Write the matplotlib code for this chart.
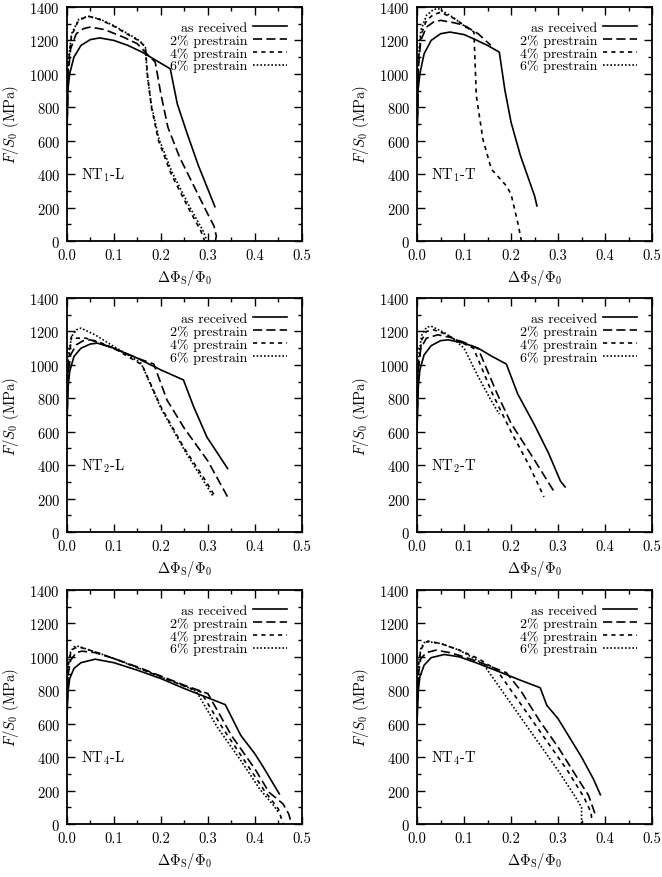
import matplotlib
matplotlib.use("Agg")
import matplotlib.pyplot as plt
from matplotlib.ticker import MultipleLocator

plt.rcParams['font.family'] = ['cmr10', 'DejaVu Serif']
plt.rcParams['mathtext.fontset'] = 'cm'
plt.rcParams['axes.formatter.use_mathtext'] = True
plt.rcParams['font.size'] = 10.5

labels = ["as received", "2% prestrain", "4% prestrain", "6% prestrain"]
panel_names = [r"NT$_1$-L", r"NT$_1$-T", r"NT$_2$-L", r"NT$_2$-T", r"NT$_4$-L", r"NT$_4$-T"]

# NT1-L  (x = dPhi_S/Phi_0, y = F/S0 in MPa)
nt1l_ar = [(0, 600), (0.002, 900), (0.006, 1000), (0.015, 1100), (0.03, 1170), (0.05, 1205), (0.07, 1215),
           (0.1, 1200), (0.13, 1170), (0.16, 1130), (0.19, 1080), (0.22, 1030), (0.235, 820),
           (0.255, 650), (0.28, 450), (0.3, 310), (0.315, 205)]
nt1l_p2 = [(0, 650), (0.003, 1000), (0.008, 1150), (0.02, 1240), (0.035, 1270), (0.05, 1280), (0.08, 1265),
           (0.12, 1220), (0.15, 1180), (0.17, 1120), (0.188, 1070), (0.2, 880), (0.215, 680),
           (0.24, 500), (0.27, 330), (0.3, 160), (0.313, 90), (0.318, 30), (0.316, 0)]
nt1l_p4 = [(0, 650), (0.003, 1050), (0.01, 1230), (0.025, 1320), (0.045, 1345), (0.07, 1325), (0.1, 1285),
           (0.13, 1235), (0.155, 1195), (0.167, 1160), (0.172, 980), (0.18, 800), (0.195, 600),
           (0.222, 400), (0.258, 200), (0.285, 60), (0.293, 0)]
nt1l_p6 = [(0, 650), (0.003, 1080), (0.01, 1240), (0.025, 1325), (0.045, 1345), (0.07, 1328), (0.1, 1288),
           (0.13, 1240), (0.155, 1198), (0.167, 1160), (0.171, 990), (0.18, 810), (0.196, 610),
           (0.224, 410), (0.262, 200), (0.29, 60), (0.298, 0)]

# NT1-T
nt1t_ar = [(0, 600), (0.002, 900), (0.006, 1000), (0.015, 1120), (0.03, 1200), (0.05, 1240), (0.07, 1250),
           (0.1, 1235), (0.12, 1210), (0.15, 1170), (0.175, 1130), (0.187, 900), (0.2, 710),
           (0.22, 510), (0.24, 350), (0.25, 270), (0.255, 210)]
nt1t_p2 = [(0, 650), (0.003, 1050), (0.008, 1200), (0.02, 1280), (0.035, 1310), (0.05, 1320), (0.08, 1305),
           (0.1, 1290), (0.13, 1240), (0.157, 1170)]
nt1t_p4 = [(0, 650), (0.003, 1080), (0.008, 1230), (0.02, 1320), (0.035, 1355), (0.05, 1368), (0.08, 1330),
           (0.1, 1290), (0.121, 1250), (0.126, 870), (0.14, 610), (0.158, 430), (0.19, 330),
           (0.2, 280), (0.215, 100), (0.222, 0)]
nt1t_p6 = [(0, 650), (0.003, 1100), (0.008, 1260), (0.02, 1350), (0.035, 1385), (0.045, 1390), (0.07, 1350),
           (0.09, 1310), (0.11, 1265)]

# NT2-L
nt2l_ar = [(0, 600), (0.002, 850), (0.006, 960), (0.015, 1050), (0.03, 1100), (0.05, 1125), (0.065, 1130),
           (0.1, 1100), (0.15, 1040), (0.2, 970), (0.248, 910), (0.27, 748), (0.298, 568), (0.342, 380)]
nt2l_p2 = [(0, 650), (0.003, 950), (0.008, 1060), (0.02, 1120), (0.035, 1145), (0.05, 1150), (0.08, 1120),
           (0.12, 1075), (0.16, 1030), (0.185, 1005), (0.213, 790), (0.25, 620), (0.3, 425), (0.343, 205)]
nt2l_p4 = [(0, 650), (0.003, 1000), (0.01, 1170), (0.02, 1160), (0.04, 1160), (0.07, 1135), (0.1, 1100),
           (0.13, 1050), (0.16, 1000), (0.2, 750), (0.25, 500), (0.29, 330), (0.315, 215)]
nt2l_p6 = [(0, 650), (0.003, 1050), (0.01, 1170), (0.02, 1210), (0.03, 1220), (0.06, 1180), (0.1, 1110),
           (0.13, 1060), (0.158, 1010), (0.2, 740), (0.25, 490), (0.29, 310), (0.312, 210)]

# NT2-T
nt2t_ar = [(0, 600), (0.002, 850), (0.006, 970), (0.015, 1060), (0.03, 1115), (0.05, 1145), (0.066, 1150),
           (0.1, 1130), (0.13, 1100), (0.16, 1050), (0.19, 1005), (0.214, 827), (0.25, 640),
           (0.28, 470), (0.305, 305), (0.315, 270)]
nt2t_p2 = [(0, 650), (0.003, 980), (0.008, 1100), (0.02, 1160), (0.044, 1180), (0.07, 1165), (0.1, 1135),
           (0.13, 1097), (0.17, 830), (0.2, 650), (0.25, 430), (0.293, 235)]
nt2t_p4 = [(0, 650), (0.003, 1000), (0.01, 1150), (0.02, 1200), (0.035, 1210), (0.06, 1185), (0.09, 1140),
           (0.12, 1100), (0.16, 830), (0.2, 600), (0.24, 390), (0.27, 210)]
nt2t_p6 = [(0, 650), (0.003, 1050), (0.01, 1180), (0.02, 1225), (0.03, 1232), (0.06, 1190), (0.08, 1150),
           (0.1, 1100), (0.13, 930), (0.155, 800), (0.175, 705)]

# NT4-L
nt4l_ar = [(0, 600), (0.002, 780), (0.006, 870), (0.015, 930), (0.03, 965), (0.06, 986), (0.1, 965),
           (0.15, 920), (0.2, 870), (0.25, 810), (0.3, 755), (0.337, 714), (0.37, 530),
           (0.4, 420), (0.418, 340), (0.435, 260), (0.452, 180)]
nt4l_p2 = [(0, 650), (0.003, 900), (0.008, 980), (0.02, 1025), (0.032, 1034), (0.06, 1025), (0.1, 990),
           (0.15, 940), (0.2, 885), (0.25, 830), (0.3, 780), (0.35, 530), (0.4, 330),
           (0.43, 190), (0.46, 120), (0.472, 60), (0.478, 0)]
nt4l_p4 = [(0, 650), (0.003, 950), (0.008, 1020), (0.015, 1050), (0.025, 1060), (0.06, 1030), (0.1, 990),
           (0.15, 935), (0.2, 880), (0.25, 825), (0.285, 790), (0.33, 580), (0.38, 370),
           (0.42, 200), (0.45, 90), (0.46, 0)]
nt4l_p6 = [(0, 650), (0.003, 960), (0.008, 1030), (0.015, 1060), (0.022, 1065), (0.06, 1030), (0.1, 990),
           (0.15, 935), (0.2, 880), (0.25, 825), (0.275, 795), (0.32, 580), (0.37, 380),
           (0.41, 210), (0.44, 110), (0.45, 70)]

# NT4-T
nt4t_ar = [(0, 600), (0.002, 780), (0.006, 880), (0.015, 950), (0.03, 995), (0.058, 1014), (0.09, 1000),
           (0.13, 960), (0.18, 905), (0.22, 860), (0.262, 815), (0.276, 710), (0.3, 630),
           (0.35, 400), (0.375, 270), (0.39, 175)]
nt4t_p2 = [(0, 650), (0.003, 900), (0.008, 990), (0.02, 1025), (0.04, 1040), (0.07, 1025), (0.1, 1000),
           (0.14, 960), (0.19, 905), (0.22, 800), (0.26, 620), (0.3, 460), (0.34, 280),
           (0.365, 170), (0.38, 50)]
nt4t_p4 = [(0, 650), (0.003, 950), (0.008, 1040), (0.015, 1080), (0.023, 1094), (0.05, 1080), (0.09, 1040),
           (0.13, 990), (0.17, 920), (0.22, 720), (0.27, 520), (0.32, 320), (0.355, 160),
           (0.37, 70), (0.372, 20)]
nt4t_p6 = [(0, 650), (0.003, 960), (0.008, 1050), (0.015, 1085), (0.025, 1090), (0.05, 1080), (0.09, 1040),
           (0.14, 960), (0.2, 720), (0.25, 520), (0.3, 320), (0.335, 170), (0.35, 100), (0.35, 0)]

panels = [
    [nt1l_ar, nt1l_p2, nt1l_p4, nt1l_p6],
    [nt1t_ar, nt1t_p2, nt1t_p4, nt1t_p6],
    [nt2l_ar, nt2l_p2, nt2l_p4, nt2l_p6],
    [nt2t_ar, nt2t_p2, nt2t_p4, nt2t_p6],
    [nt4l_ar, nt4l_p2, nt4l_p4, nt4l_p6],
    [nt4t_ar, nt4t_p2, nt4t_p4, nt4t_p6],
]

styles = ['-', (0, (5.5, 2.5)), (0, (2.5, 2.5)), (0, (1, 1.2))]

fig = plt.figure(figsize=(6.62, 8.78), dpi=100)
lefts = [0.101, 0.630]
bottoms = [0.7244, 0.3929, 0.0604]
w, h = 0.355, 0.2665

for k, series in enumerate(panels):
    row, col = divmod(k, 2)
    ax = fig.add_axes([lefts[col], bottoms[row], w, h])
    for s, lab, ls in zip(series, labels, styles):
        xs = [p[0] for p in s]
        ys = [p[1] for p in s]
        ax.plot(xs, ys, color='black', linestyle=ls, linewidth=1.2, label=lab)
    ax.set_xlim(0, 0.5)
    ax.set_ylim(0, 1400)
    ax.xaxis.set_major_locator(MultipleLocator(0.1))
    ax.xaxis.set_minor_locator(MultipleLocator(0.05))
    ax.yaxis.set_major_locator(MultipleLocator(200))
    ax.yaxis.set_minor_locator(MultipleLocator(100))
    ax.xaxis.set_major_formatter(plt.FormatStrFormatter('%.1f'))
    ax.tick_params(which='both', direction='in', top=True, right=True, labelsize=10.5, pad=5)
    ax.tick_params(which='major', length=6, width=1)
    ax.tick_params(which='minor', length=3, width=1)
    for sp in ax.spines.values():
        sp.set_linewidth(1.3)
    ax.set_xlabel(r'$\Delta\Phi_{\mathrm{S}}/\Phi_0$', fontsize=10.5, labelpad=4)
    ax.set_ylabel(r'$F/S_0$ (MPa)', fontsize=10.5, labelpad=6)
    ax.text(0.06, 400 / 1400, panel_names[k], transform=ax.transAxes, fontsize=10.5, va='center')
    ax.legend(loc='upper right', frameon=False, markerfirst=False, fontsize=10,
              handlelength=2.5, handletextpad=0.4, labelspacing=0.0,
              borderaxespad=0.45, borderpad=0.6)

fig.savefig("out.png", dpi=100)
